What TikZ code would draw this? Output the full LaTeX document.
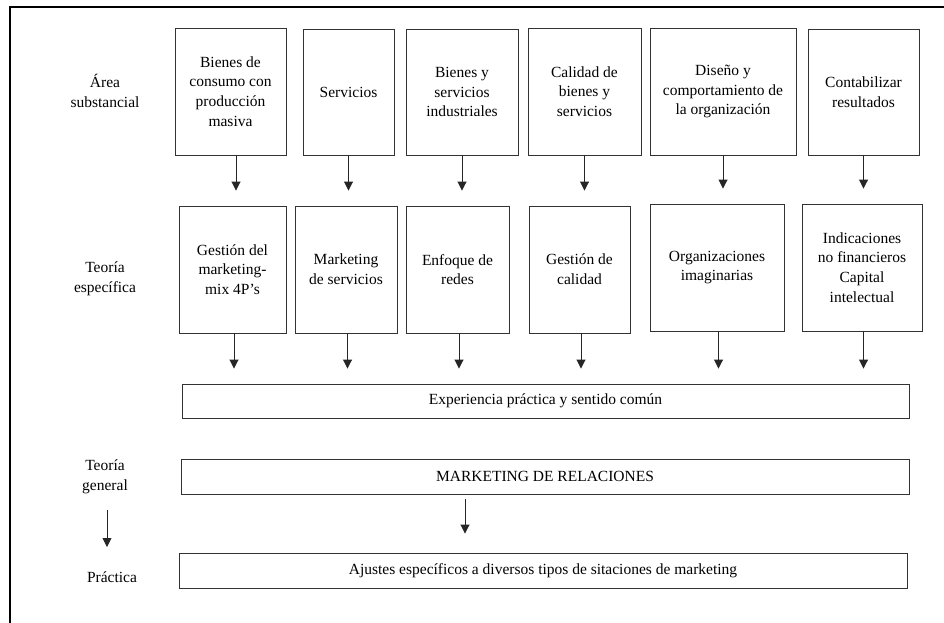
\documentclass[tikz,border=0pt]{standalone}
\usepackage{fontspec}
\setmainfont{Liberation Serif}
\usetikzlibrary{arrows.meta}
\begin{document}
\begin{tikzpicture}[x=1pt,y=-1pt,
  txt/.style={align=center, inner sep=0pt, font=\fontsize{15.5}{19.7}\selectfont},
  box/.style={txt, draw=black!80, line width=0.9pt},
  arr/.style={draw=black!85, line width=0.9pt, -{Triangle[width=9pt,length=9pt]}},
  down/.style={arr, shorten >=15pt}
]
\useasboundingbox (0,0) rectangle (944,623);
\fill[white] (0,0) rectangle (944,623);
% outer frame (only the top and left sides lie inside the page)
\draw[line width=2pt] (10,660) -- (10,7) -- (980,7);

% row labels
\node[txt] (l1) at (105,91)  {Área\\substancial};
\node[txt] (l2) at (105,279) {Teoría\\específica};
\node[txt] (l3) at (105,477) {Teoría\\general};
\node[txt] (l4) at (112,577) {Práctica};
\coordinate (g1) at (107,510);
\coordinate (g2) at (107,547);
\draw[arr] (g1) -- (g2);

% substantive areas
\node[box, minimum width=111pt, minimum height=127pt] (a1) at (230.5,91.5) {Bienes de\\consumo con\\producción\\masiva};
\node[box, minimum width=91pt,  minimum height=126pt] (a2) at (348.5,92) {Servicios};
\node[box, minimum width=112pt, minimum height=126pt] (a3) at (462,92) {Bienes y\\servicios\\industriales};
\node[box, minimum width=113pt, minimum height=127pt] (a4) at (584.5,91.5) {Calidad de\\bienes y\\servicios};
\node[box, minimum width=146pt, minimum height=127pt] (a5) at (723,91.5) {Diseño y\\comportamiento de\\la organización};
\node[box, minimum width=111pt, minimum height=126pt] (a6) at (863.5,92) {Contabilizar\\resultados};

% specific theories
\node[box, minimum width=107pt, minimum height=127pt] (b1) at (232.5,269.5) {Gestión del\\marketing-\\mix 4P’s};
\node[box, minimum width=102pt, minimum height=127pt] (b2) at (346,269.5) {Marketing\\de servicios};
\node[box, minimum width=103pt, minimum height=127pt] (b3) at (457.5,269.5) {Enfoque de\\redes};
\node[box, minimum width=101pt, minimum height=127pt] (b4) at (579.5,269.5) {Gestión de\\calidad};
\node[box, minimum width=134pt, minimum height=127pt] (b5) at (717,267.5) {Organizaciones\\imaginarias};
\node[box, minimum width=120pt, minimum height=127pt] (b6) at (862,267.5) {Indicaciones\\no financieros\\Capital\\intelectual};

% wide bars
\node[box, minimum width=727pt, minimum height=34pt] (exp) at (545.5,401) {Experiencia práctica y sentido común};
\node[box, minimum width=728pt, minimum height=35pt] (mkt) at (545,476.5) {MARKETING DE RELACIONES};
\node[box, minimum width=728pt, minimum height=35pt] (aju) at (543,570.5) {Ajustes específicos a diversos tipos de sitaciones de marketing};

% arrows: areas to theories
\draw[down] ([xshift=5.5pt]a1.south) -- ([xshift=5.5pt]a1.south |- b1.north);
\foreach \i in {2,...,6}
  \draw[down] (a\i.south) -- (a\i.south |- b\i.north);

% arrows: theories to experience
\foreach \i in {1,...,6}
  \draw[down] ([xshift=1.5pt]b\i.south) -- ([xshift=1.5pt]b\i.south |- exp.north);

% arrow: general theory to practice
\draw[arr, shorten <=5pt, shorten >=19pt] ([xshift=-80pt]mkt.south) -- ([xshift=-80pt]mkt.south |- aju.north);
\end{tikzpicture}
\end{document}
